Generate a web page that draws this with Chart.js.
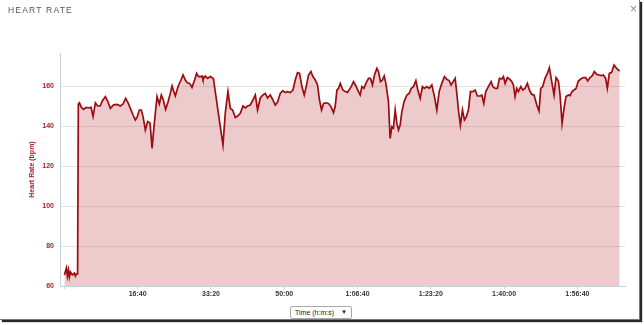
<!DOCTYPE html>
<html>
<head>
<meta charset="utf-8">
<script src="https://cdn.jsdelivr.net/npm/chart.js@4"></script>
<style>
  html, body { margin: 0; padding: 0; background: #fff; }
  #frame {
    position: absolute; left: 0; top: 0; width: 639px; height: 319px;
    background: #fff; border-right: 1px solid #777; border-bottom: 1px solid #777;
    box-shadow: 2px 2px 1px #2a2a2a;
  }
  #chart { position: absolute; left: 0; top: 0; }
  .title {
    position: absolute; left: 8px; top: 5px; font: 8.5px "Liberation Sans", Arial, sans-serif;
    letter-spacing: 1.2px; color: #555;
  }
  .close {
    position: absolute; left: 630px; top: 2px; font: 12px "Liberation Sans", Arial, sans-serif; color: #888;
  }
  .select {
    position: absolute; left: 290px; top: 306px; width: 60px; height: 11px;
    border: 1px solid #aaa; border-radius: 2px; background: #fff;
    font: 7px "Liberation Sans", Arial, sans-serif; color: #222; line-height: 11px;
  }
  .select span { position: absolute; left: 4px; }
  .select b { position: absolute; right: 4px; font-size: 6px; }
</style>
</head>
<body>
<div id="frame"></div>
<canvas id="chart" width="644" height="325"></canvas>
<div class="title">HEART RATE</div>
<div class="close">×</div>
<div class="select"><span>Time (h:m:s)</span><b>▼</b></div>
<script>
// elapsed time in seconds
const times = [0, 27, 41, 55, 68, 82, 109, 136, 150, 164, 180, 190, 205, 232, 263, 296, 331, 364, 391, 423,
  454, 487, 518, 559, 590, 627, 672, 719, 764, 800, 836, 869, 900, 937, 968, 991, 1023, 1050, 1073, 1105,
  1136, 1169, 1196, 1227, 1264, 1295, 1323, 1350, 1381, 1414, 1445, 1469, 1490, 1514, 1537, 1559, 1591, 1619, 1650, 1677,
  1709, 1741, 1777, 1804, 1831, 1855, 1878, 1891, 1923, 1954, 1991, 2028, 2036, 2082, 2127, 2164, 2195, 2232, 2264, 2295,
  2332, 2364, 2400, 2437, 2468, 2500, 2536, 2573, 2605, 2636, 2673, 2709, 2741, 2772, 2809, 2846, 2877, 2909, 2945, 2982,
  3014, 3045, 3082, 3119, 3150, 3181, 3209, 3241, 3273, 3300, 3331, 3364, 3391, 3423, 3454, 3481, 3509, 3536, 3573, 3604,
  3637, 3672, 3695, 3719, 3740, 3764, 3800, 3832, 3863, 3914, 3945, 3978, 4013, 4036, 4060, 4087, 4114, 4150, 4177, 4204,
  4231, 4264, 4286, 4313, 4340, 4364, 4387, 4422, 4445, 4469, 4490, 4514, 4537, 4559, 4582, 4605, 4636, 4673, 4705, 4732,
  4763, 4796, 4823, 4855, 4886, 4914, 4946, 4977, 5014, 5050, 5082, 5114, 5150, 5186, 5218, 5250, 5277, 5305, 5332, 5355,
  5377, 5404, 5432, 5459, 5486, 5513, 5541, 5573, 5605, 5636, 5673, 5696, 5723, 5750, 5786, 5823, 5846, 5877, 5909, 5936,
  5968, 5991, 6014, 6045, 6072, 6105, 6127, 6150, 6173, 6195, 6228, 6255, 6286, 6318, 6345, 6377, 6409, 6446, 6477, 6500,
  6527, 6559, 6591, 6618, 6650, 6682, 6709, 6741, 6764, 6791, 6818, 6845, 6877, 6900, 6927, 6955, 6982, 7013, 7046, 7081,
  7114, 7141, 7173, 7204, 7231, 7264, 7295, 7323, 7354, 7386, 7409, 7436, 7468, 7500, 7527, 7559, 7577];

const heartRate = [65.5, 69, 65, 68, 64.5, 67, 65.5, 66.5, 65, 66, 66, 151, 151.6, 149.3, 148.3, 149.3, 149, 149.3, 144.7, 151.6,
  150, 150, 152.5, 154.7, 152.5, 148.8, 150.6, 150.8, 150, 151, 153.8, 151.6, 148.8, 145.5, 143, 144.3, 148, 148, 144.7, 138,
  142.2, 141.5, 128.8, 141.3, 154.7, 151, 155.5, 153, 148.3, 152, 156.3, 160, 157.5, 155, 158, 160.5, 163, 165.5, 163, 161.6,
  161.3, 159.3, 163, 166.3, 164.7, 164.7, 165, 163.3, 165, 163.8, 164.7, 163.8, 163, 151.3, 139.7, 130.5, 146.3, 157.2, 148.8, 148,
  144.3, 145, 146.3, 150, 149, 150, 150.5, 153, 155.5, 148, 154, 155.5, 156.3, 154, 155.5, 153, 150.5, 152, 156.3, 157.7,
  156.7, 157.2, 156.7, 158, 163, 166.7, 166.3, 159.7, 155.5, 159.7, 165.5, 167.2, 164.7, 163, 160.5, 153, 148, 151.3, 151.6, 151.3,
  149.7, 146.7, 149.7, 158, 158.7, 161.3, 158, 157.2, 156.8, 159.7, 162.2, 160, 157.2, 155.5, 159.7, 158.8, 161.3, 163.8, 163.8, 160.5,
  165.5, 168.8, 167.2, 162.2, 163, 165, 161.3, 152.2, 133.8, 139.7, 139, 148, 141.3, 138, 140.5, 147.2, 152.2, 155.5, 156.3, 158.8,
  159.7, 162.7, 158, 153.8, 159.7, 158.8, 159.7, 158.8, 160.5, 154.7, 148, 157.2, 161.3, 164.7, 163.3, 162.7, 160.5, 162.2, 163.8, 156.3,
  148, 140.5, 148, 143, 144.7, 148, 157.2, 157.2, 158, 155, 155, 155.5, 151.3, 157.2, 159.7, 162.2, 159.7, 158.8, 158.8, 163.8,
  163.5, 164.7, 161.3, 164.2, 163.5, 162.2, 160.5, 154.7, 158.8, 157.2, 159.7, 158, 158.8, 161.3, 158, 155.8, 155.5, 150.5, 147.5, 158.8,
  159.7, 163.8, 166.3, 169.2, 162.2, 155.5, 164.2, 162.5, 155.5, 141.3, 148.8, 154.7, 155.5, 155.2, 157.2, 158, 158.8, 162.5, 163.5, 164.2,
  164.2, 162.5, 164.2, 165.2, 167.2, 165.8, 165.5, 165.2, 165.5, 163.8, 158.8, 166.3, 166.8, 170.5, 169.2, 168, 167.5];

const xTicks = [0, 1000, 2000, 3000, 4000, 5000, 6000, 7000];
const xTickLabels = ['', '16:40', '33:20', '50:00', '1:06:40', '1:23:20', '1:40:00', '1:56:40'];
const yTicks = [60, 80, 100, 120, 140, 160];

const points = times.map((t, i) => ({ x: t, y: heartRate[i] }));

const ctx = document.getElementById('chart').getContext('2d');

new Chart(ctx, {
    type: 'line',
    data: {
        datasets: [{
            label: 'Heart Rate',
            data: points,
            borderColor: '#9c0c10',
            borderWidth: 1.7,
            backgroundColor: 'rgba(175, 20, 25, 0.22)',
            fill: 'start',
            pointRadius: 0,
            tension: 0
        }]
    },
    options: {
        responsive: false,
        animation: false,
        layout: {
            padding: { top: 53, right: 19, bottom: 0, left: 0 }
        },
        scales: {
            x: {
                type: 'linear',
                min: -60,
                max: 7650,
                afterBuildTicks: scale => { scale.ticks = xTicks.map(v => ({ value: v })); },
                afterFit: scale => { scale.height = 39; },
                border: { color: '#c4d2e2', width: 1 },
                grid: { drawOnChartArea: false, drawTicks: true, tickLength: 3, color: '#c4d2e2' },
                ticks: {
                    padding: 1,
                    maxRotation: 0,
                    autoSkip: false,
                    color: '#333',
                    font: { family: 'Liberation Sans', size: 7, weight: 'bold' },
                    callback: value => xTickLabels[xTicks.indexOf(value)]
                }
            },
            y: {
                min: 60,
                max: 176.5,
                afterBuildTicks: scale => { scale.ticks = yTicks.map(v => ({ value: v })); },
                afterFit: scale => { scale.width = 60; },
                border: { color: '#c4d2e2', width: 1 },
                grid: { color: '#e4e4e4', drawTicks: false },
                ticks: {
                    padding: 6,
                    color: '#a8222a',
                    font: { family: 'Liberation Sans', size: 7, weight: 'bold' }
                },
                title: {
                    display: true,
                    text: 'Heart Rate (bpm)',
                    color: '#a8222a',
                    padding: { top: 28, bottom: 0 },
                    font: { family: 'Liberation Sans', size: 7, weight: 'bold' }
                }
            }
        },
        plugins: {
            legend: { display: false },
            tooltip: { enabled: false }
        }
    }
});
</script>
</body>
</html>
